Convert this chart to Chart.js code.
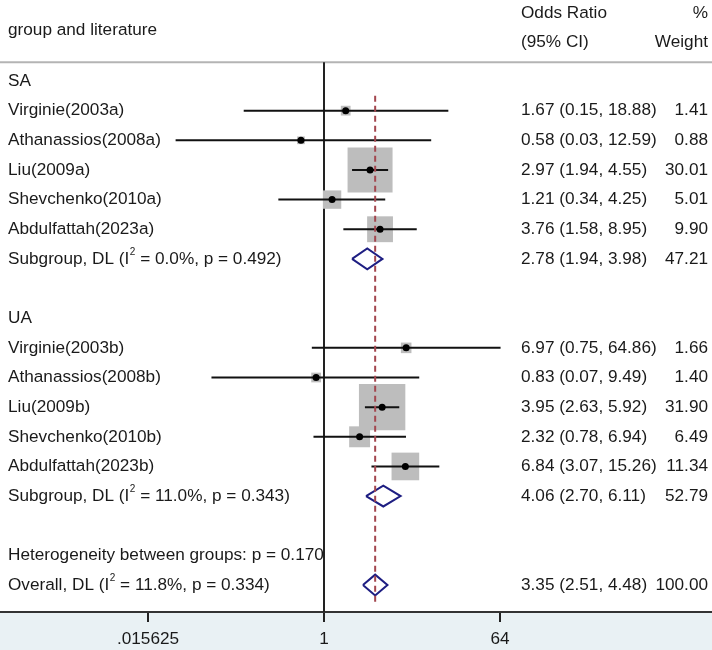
<!DOCTYPE html>
<html>
<head>
<meta charset="utf-8">
<script src="https://cdn.jsdelivr.net/npm/chart.js@4"></script>
<style>
html,body{margin:0;padding:0;background:#fff;}
#wrap{width:712px;height:650px;position:relative;}
</style>
</head>
<body>
<div id="wrap"><canvas id="c"></canvas></div>
<script>
// ---- data ----
const studyNames = ["Virginie(2003a)","Athanassios(2008a)","Liu(2009a)","Shevchenko(2010a)","Abdulfattah(2023a)",
                    "Virginie(2003b)","Athanassios(2008b)","Liu(2009b)","Shevchenko(2010b)","Abdulfattah(2023b)"];
const studyRows  = [1,2,3,4,5, 9,10,11,12,13];
const studyOR    = [1.67,0.58,2.97,1.21,3.76, 6.97,0.83,3.95,2.32,6.84];
const studyLo    = [0.15,0.03,1.94,0.34,1.58, 0.75,0.07,2.63,0.78,3.07];
const studyHi    = [18.88,12.59,4.55,4.25,8.95, 64.86,9.49,5.92,6.94,15.26];
const studyW     = [1.41,0.88,30.01,5.01,9.90, 1.66,1.40,31.90,6.49,11.34];

const groupNames = ["SA","UA"];
const groupRows  = [0,8];
const subRows    = [6,14];
const subOR      = [2.78,4.06];
const subLo      = [1.94,2.70];
const subHi      = [3.98,6.11];
const subW       = [47.21,52.79];
const subI2      = ["0.0","11.0"];
const subP       = ["0.492","0.343"];

const hetRow = 16, hetP = "0.170";
const overallRow = 17;
const overallOR = 3.35, overallLo = 2.51, overallHi = 4.48, overallW = 100.00;
const overallI2 = "11.8", overallP = "0.334";

const tickValues = [0.015625, 1, 64];
const tickLabels = [".015625", "1", "64"];

// ---- styles ----
const FONT = '"Liberation Sans", Arial, sans-serif';
const FS = 17.2;
const TXT = '#1a1a1a';
const NAVY = '#1e1e82';
const DASH = '#a3474f';
const GREY = '#bdbdbd';

// ---- datasets ----
const datasets = [];
datasets.push({
  type:'scatter', label:'weights', order:5,
  data: studyOR.map((v,i)=>({x:v, y:studyRows[i]})),
  pointStyle:'rect',
  pointRadius: studyW.map(w => 45*Math.sqrt(w/30.01)/Math.SQRT2),
  pointHoverRadius: studyW.map(w => 45*Math.sqrt(w/30.01)/Math.SQRT2),
  backgroundColor: GREY, borderColor: GREY, borderWidth:0
});
studyOR.forEach((v,i)=>{
  datasets.push({
    type:'line', order:3, label:'ci'+i,
    data:[{x:studyLo[i], y:studyRows[i]},{x:studyHi[i], y:studyRows[i]}],
    borderColor:'#111', borderWidth:2, pointRadius:0, fill:false, tension:0
  });
});
const DH = 0.35;
function diamond(o,l,h,r){
  return [{x:l,y:r},{x:o,y:r-DH},{x:h,y:r},{x:o,y:r+DH},{x:l,y:r}];
}
subOR.forEach((v,i)=>{
  datasets.push({type:'line', order:2, label:'sub'+i, data:diamond(v,subLo[i],subHi[i],subRows[i]),
    borderColor:NAVY, borderWidth:2, pointRadius:0, fill:false, tension:0});
});
datasets.push({type:'line', order:2, label:'overall', data:diamond(overallOR,overallLo,overallHi,overallRow),
  borderColor:NAVY, borderWidth:2, pointRadius:0, fill:false, tension:0});
datasets.push({type:'line', order:1, label:'overallLine',
  data:[{x:overallOR,y:0.5},{x:overallOR,y:overallRow+0.7}],
  borderColor:DASH, borderWidth:2, borderDash:[6,4], pointRadius:0, fill:false});
datasets.push({
  type:'scatter', label:'est', order:0,
  data: studyOR.map((v,i)=>({x:v, y:studyRows[i]})),
  pointStyle:'circle', pointRadius:3.5, backgroundColor:'#000', borderColor:'#000', borderWidth:0
});

const fmt = v => v.toFixed(2);

function drawSupLabel(ctx, x, y, pre, sup, post){
  ctx.font = FS + 'px ' + FONT;
  ctx.fillText(pre, x, y);
  let w = ctx.measureText(pre).width;
  ctx.font = '10px ' + FONT;
  ctx.fillText(sup, x + w + 0.5, y - 7);
  const sw = ctx.measureText(sup).width;
  ctx.font = FS + 'px ' + FONT;
  ctx.fillText(post, x + w + sw + 0.5, y);
}

const forestPlugin = {
  id:'forest',
  beforeDraw(chart){
    const {ctx, chartArea, width, height} = chart;
    ctx.save();
    ctx.fillStyle = '#fff'; ctx.fillRect(0,0,width,height);
    ctx.fillStyle = '#e9f1f4'; ctx.fillRect(0, chartArea.bottom, width, height - chartArea.bottom);
    ctx.restore();
  },
  beforeDatasetsDraw(chart){
    const {ctx, chartArea, scales} = chart;
    const y = scales.y, x = scales.x;
    const headY = y.getPixelForValue(-0.63);
    ctx.save();
    ctx.strokeStyle = '#b4b4b4'; ctx.lineWidth = 2;
    ctx.beginPath(); ctx.moveTo(0, headY); ctx.lineTo(chart.width, headY); ctx.stroke();
    const x1 = Math.round(x.getPixelForValue(1));
    ctx.strokeStyle = '#222'; ctx.lineWidth = 2;
    ctx.beginPath(); ctx.moveTo(x1, headY); ctx.lineTo(x1, chartArea.bottom); ctx.stroke();
    ctx.restore();
  },
  afterDatasetsDraw(chart){
    const {ctx, scales} = chart;
    const y = scales.y;
    const L = 8, EST = 521, WR = 708;
    ctx.save();
    ctx.fillStyle = TXT;
    ctx.textBaseline = 'middle';
    ctx.font = FS + 'px ' + FONT;
    ctx.textAlign = 'left';
    ctx.fillText('group and literature', L, 30);
    ctx.fillText('Odds Ratio', EST, 13);
    ctx.fillText('(95% CI)', EST, 42);
    ctx.textAlign = 'right';
    ctx.fillText('%', WR, 13);
    ctx.fillText('Weight', WR, 42);
    ctx.textAlign = 'left';
    groupNames.forEach((g,i)=> ctx.fillText(g, L, y.getPixelForValue(groupRows[i])));
    studyNames.forEach((n,i)=>{
      const py = y.getPixelForValue(studyRows[i]);
      ctx.textAlign = 'left';
      ctx.fillText(n, L, py);
      ctx.fillText(fmt(studyOR[i]) + ' (' + fmt(studyLo[i]) + ', ' + fmt(studyHi[i]) + ')', EST, py);
      ctx.textAlign = 'right';
      ctx.fillText(fmt(studyW[i]), WR, py);
    });
    subOR.forEach((v,i)=>{
      const py = y.getPixelForValue(subRows[i]);
      ctx.textAlign = 'left';
      drawSupLabel(ctx, L, py, 'Subgroup, DL (I', '2', ' = ' + subI2[i] + '%, p = ' + subP[i] + ')');
      ctx.fillText(fmt(v) + ' (' + fmt(subLo[i]) + ', ' + fmt(subHi[i]) + ')', EST, py);
      ctx.textAlign = 'right';
      ctx.fillText(fmt(subW[i]), WR, py);
    });
    ctx.textAlign = 'left';
    ctx.fillText('Heterogeneity between groups: p = ' + hetP, L, y.getPixelForValue(hetRow));
    const oy = y.getPixelForValue(overallRow);
    drawSupLabel(ctx, L, oy, 'Overall, DL (I', '2', ' = ' + overallI2 + '%, p = ' + overallP + ')');
    ctx.fillText(fmt(overallOR) + ' (' + fmt(overallLo) + ', ' + fmt(overallHi) + ')', EST, oy);
    ctx.textAlign = 'right';
    ctx.fillText(overallW.toFixed(2), WR, oy);
    ctx.restore();
  }
};

const PX_PER_LOG2 = 176/6;
new Chart(document.getElementById('c'), {
  data:{ datasets },
  options:{
    responsive:true, maintainAspectRatio:false, animation:false,
    layout:{padding:0, autoPadding:false},
    plugins:{legend:{display:false}, tooltip:{enabled:false}},
    events:[],
    scales:{
      x:{
        type:'logarithmic', position:'bottom',
        min: Math.pow(2, -324/PX_PER_LOG2),
        max: Math.pow(2, (712-324)/PX_PER_LOG2),
        afterBuildTicks(scale){ scale.ticks = tickValues.map(v=>({value:v})); },
        afterFit(scale){ scale.height = 38; },
        ticks:{ autoSkip:false, maxRotation:0, color:TXT, padding:7,
          font:{family:FONT, size:FS},
          callback:(v,i)=>tickLabels[i] },
        grid:{ drawOnChartArea:false, drawTicks:true, tickLength:10, color:'#222', lineWidth:2 },
        border:{ display:true, color:'#333', width:2 }
      },
      y:{
        type:'linear', display:false, reverse:true,
        min: -81/29.65, max: (612-81)/29.65
      }
    }
  },
  plugins:[forestPlugin]
});
</script>
</body>
</html>
